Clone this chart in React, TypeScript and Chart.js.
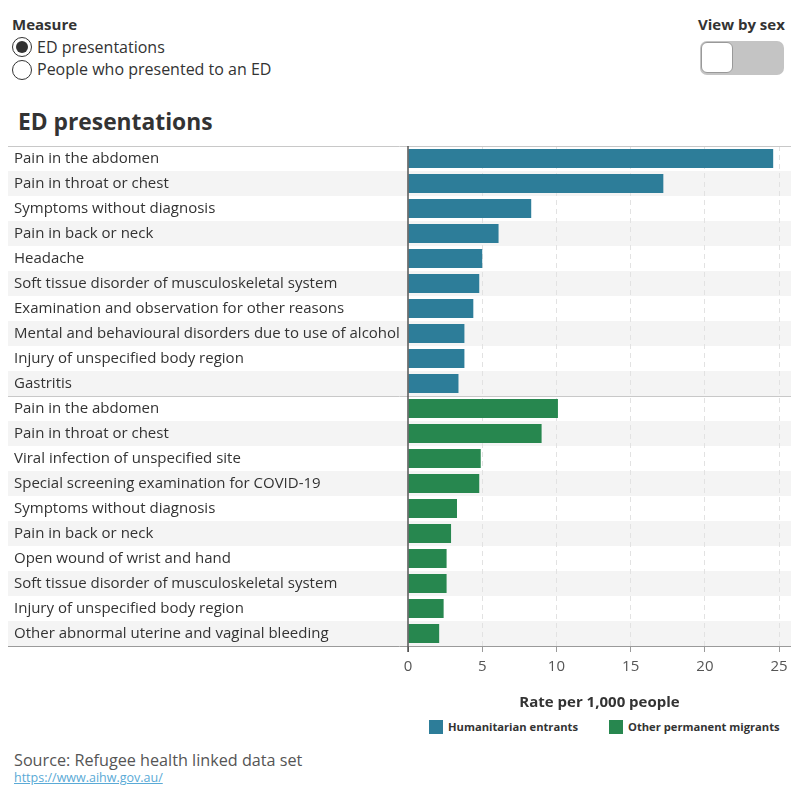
import React, { useEffect, useRef } from "react";
import { Chart, registerables } from "chart.js";

Chart.register(...registerables);

const humanitarianLabels = [
  "Pain in the abdomen",
  "Pain in throat or chest",
  "Symptoms without diagnosis",
  "Pain in back or neck",
  "Headache",
  "Soft tissue disorder of musculoskeletal system",
  "Examination and observation for other reasons",
  "Mental and behavioural disorders due to use of alcohol",
  "Injury of unspecified body region",
  "Gastritis",
];
const humanitarianValues = [24.6, 17.2, 8.3, 6.1, 5.0, 4.8, 4.4, 3.8, 3.8, 3.4];

const migrantLabels = [
  "Pain in the abdomen",
  "Pain in throat or chest",
  "Viral infection of unspecified site",
  "Special screening examination for COVID-19",
  "Symptoms without diagnosis",
  "Pain in back or neck",
  "Open wound of wrist and hand",
  "Soft tissue disorder of musculoskeletal system",
  "Injury of unspecified body region",
  "Other abnormal uterine and vaginal bleeding",
];
const migrantValues = [10.1, 9.0, 4.9, 4.8, 3.3, 2.9, 2.6, 2.6, 2.4, 2.1];

const xTicks = [0, 5, 10, 15, 20, 25];
const seriesNames = ["Humanitarian entrants", "Other permanent migrants"];

const TEAL = "#2d7d99";
const GREEN = "#27874f";
const FONT = "'Open Sans', 'Noto Sans', sans-serif";

const bandsPlugin = {
  id: "bands",
  beforeDraw(chart: any) {
    const { ctx, chartArea, scales } = chart;
    const y = scales.y;
    const n = y.ticks.length;
    const h = (chartArea.bottom - chartArea.top) / n;
    ctx.save();
    ctx.fillStyle = "#f4f4f4";
    for (let i = 0; i < n; i++) {
      if ((i % 10) % 2 === 1) {
        const c = y.getPixelForValue(i);
        ctx.fillRect(8, c - h / 2, chartArea.right - 8, h);
      }
    }
    ctx.restore();
  },
  afterDatasetsDraw(chart: any) {
    const { ctx, chartArea, scales } = chart;
    const y = scales.y;
    const x = scales.x;
    const n = y.ticks.length;
    const h = (chartArea.bottom - chartArea.top) / n;
    ctx.save();
    ctx.lineWidth = 1;
    ctx.strokeStyle = "#c8c8c8";
    ctx.beginPath();
    ctx.moveTo(8, Math.round(chartArea.top) + 0.5);
    ctx.lineTo(chartArea.right, Math.round(chartArea.top) + 0.5);
    const sep = y.getPixelForValue(9) + h / 2;
    ctx.moveTo(8, Math.round(sep) + 0.5);
    ctx.lineTo(chartArea.right, Math.round(sep) + 0.5);
    ctx.stroke();
    ctx.strokeStyle = "#9a9a9a";
    ctx.beginPath();
    ctx.moveTo(8, Math.round(chartArea.bottom) + 0.5);
    ctx.lineTo(chartArea.right, Math.round(chartArea.bottom) + 0.5);
    ctx.stroke();
    const x0 = Math.round(x.getPixelForValue(0));
    ctx.strokeStyle = "#555";
    ctx.lineWidth = 1.5;
    ctx.beginPath();
    ctx.moveTo(x0, chartArea.top);
    ctx.lineTo(x0, chartArea.bottom + 6);
    ctx.stroke();
    ctx.restore();
  },
};

function BarChart() {
  const ref = useRef<HTMLCanvasElement | null>(null);
  useEffect(() => {
    if (!ref.current) return;
    const labels = [...humanitarianLabels, ...migrantLabels];
    const hData = [...humanitarianValues, ...migrantValues.map(() => null)];
    const mData = [...humanitarianValues.map(() => null), ...migrantValues];
    const chart = new Chart(ref.current, {
      type: "bar",
      data: {
        labels,
        datasets: [
          {
            label: seriesNames[0],
            data: hData as any,
            backgroundColor: TEAL,
            grouped: false,
            categoryPercentage: 1,
            barPercentage: 0.76,
          } as any,
          {
            label: seriesNames[1],
            data: mData as any,
            backgroundColor: GREEN,
            grouped: false,
            categoryPercentage: 1,
            barPercentage: 0.76,
          } as any,
        ],
      },
      options: {
        indexAxis: "y",
        responsive: false,
        animation: false,
        layout: { padding: { left: 14, right: 9, top: 0, bottom: 0 } },
        plugins: { legend: { display: false }, tooltip: { enabled: false } },
        scales: {
          x: {
            min: 0,
            max: 25.8,
            afterBuildTicks: (s: any) => {
              s.ticks = xTicks.map((v) => ({ value: v }));
            },
            afterFit: (s: any) => {
              s.height = 69;
            },
            grid: {
              color: (c: any) => (c.tick && c.tick.value === 0 ? "rgba(0,0,0,0)" : "#e2e2e2"),
              tickColor: (c: any) => (c.tick && c.tick.value === 0 ? "#555" : "#9a9a9a"),
              tickLength: 6,
              lineWidth: 1,
            },
            border: { display: false, dash: [5, 4] },
            ticks: {
              color: "#555",
              padding: 6,
              font: { family: FONT, size: 15 },
              callback: (v: any) => String(v),
            },
            title: {
              display: true,
              text: "Rate per 1,000 people",
              color: "#333",
              font: { family: FONT, size: 15, weight: "bold" },
              padding: { top: 0, bottom: 3 },
            },
          },
          y: {
            afterFit: (s: any) => {
              s.width = 394;
            },
            grid: { display: false },
            border: { display: false },
            ticks: {
              crossAlign: "far",
              autoSkip: false,
              color: "#333",
              padding: 0,
              font: { family: FONT, size: 15, lineHeight: 1.2 },
            },
          },
        },
      } as any,
      plugins: [bandsPlugin],
    });
    return () => chart.destroy();
  }, []);
  return (
    <canvas
      ref={ref}
      width={800}
      height={578}
      style={{ position: "absolute", left: 0, top: 137, width: 800, height: 578 }}
    />
  );
}

export default function App() {
  const text = { position: "absolute" as const, fontFamily: FONT, color: "#333", whiteSpace: "nowrap" as const };
  return (
    <div style={{ position: "absolute", left: 0, top: 0, width: 800, height: 800, background: "#fff" }}>
      <div style={{ ...text, left: 12, top: 14, fontSize: 15, fontWeight: 700, lineHeight: "20px" }}>Measure</div>
      <div style={{ position: "absolute", left: 12, top: 37, width: 20, height: 20, borderRadius: "50%", border: "1px solid #333", boxSizing: "border-box" }}>
        <div style={{ position: "absolute", left: 3, top: 3, width: 12, height: 12, borderRadius: "50%", background: "#333" }} />
      </div>
      <div style={{ ...text, left: 37, top: 37, fontSize: 16, lineHeight: "20px" }}>ED presentations</div>
      <div style={{ position: "absolute", left: 12, top: 60, width: 20, height: 20, borderRadius: "50%", border: "1px solid #333", boxSizing: "border-box" }} />
      <div style={{ ...text, left: 37, top: 59, fontSize: 16, lineHeight: "20px" }}>People who presented to an ED</div>

      <div style={{ ...text, left: 698, top: 14, fontSize: 15, fontWeight: 700, lineHeight: "20px" }}>View by sex</div>
      <div style={{ position: "absolute", left: 700, top: 41, width: 84, height: 34, borderRadius: 7, background: "#c4c4c4" }}>
        <div style={{ position: "absolute", left: 1, top: 1, width: 32, height: 31, borderRadius: 6, background: "#fff", border: "1px solid #999", boxSizing: "border-box" }} />
      </div>

      <div style={{ ...text, left: 18, top: 107, fontSize: 22.8, fontWeight: 700, lineHeight: "30px" }}>ED presentations</div>

      <BarChart />

      <div style={{ position: "absolute", left: 429, top: 720, width: 14, height: 14, background: TEAL }} />
      <div style={{ ...text, left: 448, top: 719, fontSize: 11.2, fontWeight: 700, lineHeight: "16px" }}>{seriesNames[0]}</div>
      <div style={{ position: "absolute", left: 609, top: 720, width: 14, height: 14, background: GREEN }} />
      <div style={{ ...text, left: 628, top: 719, fontSize: 11.2, fontWeight: 700, lineHeight: "16px" }}>{seriesNames[1]}</div>

      <div style={{ ...text, left: 14, top: 750, fontSize: 16.2, color: "#555", lineHeight: "20px" }}>Source: Refugee health linked data set</div>
      <div style={{ ...text, left: 14, top: 771, fontSize: 12.5, color: "#5aaad6", textDecoration: "underline", lineHeight: "14px" }}>https://www.aihw.gov.au/</div>
    </div>
  );
}
